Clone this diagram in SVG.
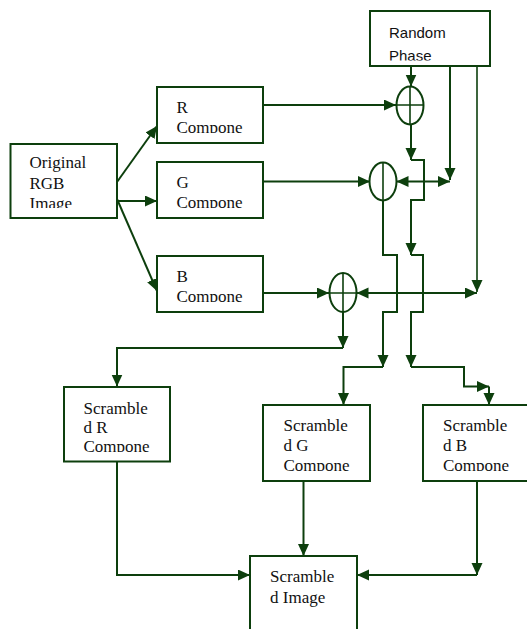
<svg xmlns="http://www.w3.org/2000/svg" width="527" height="629" viewBox="0 0 527 629">
<style>
.box{fill:#fff;stroke:#0d3f0d;stroke-width:2}
.ln{fill:none;stroke:#0d3f0d;stroke-width:2}
.sm{fill:none;stroke:#0d3f0d;stroke-width:1.6}
.t{font-family:"Liberation Serif",serif;font-size:17px;fill:#111}
.s{font-family:"Liberation Sans",Arial,sans-serif;font-size:15px;fill:#111}
</style>
<defs>
<marker id="ah" markerUnits="userSpaceOnUse" markerWidth="13" markerHeight="12" refX="12" refY="5.5" orient="auto-start-reverse" viewBox="0 0 13 12">
<path d="M0,0 L12,5.5 L0,11 z" fill="#0d3f0d"/>
</marker>
<clipPath id="cRP"><rect x="370" y="11" width="120" height="49.5"/></clipPath>
<clipPath id="cR"><rect x="157" y="87" width="106" height="46"/></clipPath>
<clipPath id="cO"><rect x="10" y="144" width="107" height="64"/></clipPath>
<clipPath id="cG"><rect x="157" y="162" width="106" height="46"/></clipPath>
<clipPath id="cB"><rect x="157" y="256" width="106" height="46"/></clipPath>
<clipPath id="cSR"><rect x="64" y="387" width="106" height="65"/></clipPath>
<clipPath id="cSG"><rect x="263" y="405" width="107" height="66"/></clipPath>
<clipPath id="cSB"><rect x="423" y="405" width="104" height="66"/></clipPath>
</defs>
<rect width="527" height="629" fill="#fff"/>
<g id="connectors">
<path class="ln" d="M117,182 L157,126" marker-end="url(#ah)"/>
<path class="ln" d="M117,201 L157,201" marker-end="url(#ah)"/>
<path class="ln" d="M117,199 L157,291" marker-end="url(#ah)"/>
<path class="ln" d="M263,105 L396,105" marker-end="url(#ah)"/>
<path class="ln" d="M263,181.5 L370,181.5" marker-end="url(#ah)"/>
<path class="ln" d="M263,293 L329,293" marker-end="url(#ah)"/>
<path class="ln" d="M411,66 L411,86.5" marker-end="url(#ah)"/>
<path class="ln" d="M411,124 L411,160" marker-end="url(#ah)"/>
<path class="ln" d="M411,160 L424,160 L424,200 L411,200 L411,255" marker-end="url(#ah)"/>
<path class="ln" d="M411,255 L423,255 L423,312 L411,312 L411,367" marker-end="url(#ah)"/>
<path class="ln" d="M411,367 L464,367 L464,386.5 L489,386.5" marker-end="url(#ah)"/>
<path class="ln" d="M489,386.5 L489,405" marker-end="url(#ah)"/>
<path class="ln" d="M383,200.5 L383,255 L397,255 L397,312 L383,312 L383,367" marker-end="url(#ah)"/>
<path class="ln" d="M383,367 L343.5,367 L343.5,405" marker-end="url(#ah)"/>
<path class="ln" d="M343,312 L343,348" marker-end="url(#ah)"/>
<path class="ln" d="M343,348 L117,348 L117,386.5" marker-end="url(#ah)"/>
<path class="ln" d="M450,66 L450,180" marker-end="url(#ah)"/>
<path class="ln" d="M396.5,181.5 L450,181.5" marker-start="url(#ah)" marker-end="url(#ah)"/>
<path class="sm" d="M477,66 L477,292" marker-end="url(#ah)"/>
<path class="ln" d="M356.5,293 L477,293" marker-start="url(#ah)" marker-end="url(#ah)"/>
<path class="ln" d="M117,461.5 L117,575 L250,575" marker-end="url(#ah)"/>
<path class="ln" d="M303.5,481 L303.5,556" marker-end="url(#ah)"/>
<path class="ln" d="M477,481 L477,575" marker-end="url(#ah)"/>
<path class="ln" d="M477,575 L357,575" marker-end="url(#ah)"/>
</g>
<g id="random-phase">
<rect class="box" x="370" y="11" width="120" height="55"/>
<g clip-path="url(#cRP)"><text class="s" x="389" y="37.5">Random</text><text class="s" x="389" y="61">Phase</text></g>
</g>
<g id="r-component">
<rect class="box" x="157" y="87" width="106" height="56"/>
<g clip-path="url(#cR)"><text class="t" x="176.5" y="112.5">R</text><text class="t" x="176.5" y="132.5">Compone</text></g>
</g>
<g id="original">
<rect class="box" x="10.5" y="144" width="106.5" height="74"/>
<g clip-path="url(#cO)"><text class="t" x="29.5" y="168">Original</text><text class="t" x="29.5" y="188.5">RGB</text><text class="t" x="29.5" y="209">Image</text></g>
</g>
<g id="g-component">
<rect class="box" x="157" y="162" width="106" height="56"/>
<g clip-path="url(#cG)"><text class="t" x="176.5" y="188">G</text><text class="t" x="176.5" y="208">Compone</text></g>
</g>
<g id="b-component">
<rect class="box" x="157" y="256" width="106" height="56"/>
<g clip-path="url(#cB)"><text class="t" x="176.5" y="281.5">B</text><text class="t" x="176.5" y="301.5">Compone</text></g>
</g>
<g id="sum-r">
<ellipse class="ln" cx="410" cy="105.5" rx="13.5" ry="19"/>
<path class="sm" d="M396.5,105 L423.5,105 M410,86.5 L410,124.5"/>
</g>
<g id="sum-g">
<ellipse class="ln" cx="383" cy="181.5" rx="13.5" ry="19"/>
<path class="sm" d="M383,162.5 L383,200.5"/>
</g>
<g id="sum-b">
<ellipse class="ln" cx="343" cy="292.5" rx="13.5" ry="19.5"/>
<path class="sm" d="M329.5,293 L356.5,293 M343,273 L343,312"/>
</g>
<g id="scrambled-r">
<rect class="box" x="64" y="387" width="106" height="74.5"/>
<g clip-path="url(#cSR)"><text class="t" x="83.5" y="413.5">Scramble</text><text class="t" x="83.5" y="432.5">d R</text><text class="t" x="83.5" y="452">Compone</text></g>
</g>
<g id="scrambled-g">
<rect class="box" x="263" y="405" width="107" height="76"/>
<g clip-path="url(#cSG)"><text class="t" x="283.5" y="431">Scramble</text><text class="t" x="283.5" y="451">d G</text><text class="t" x="283.5" y="471">Compone</text></g>
</g>
<g id="scrambled-b">
<rect class="box" x="423" y="405" width="110" height="76"/>
<g clip-path="url(#cSB)"><text class="t" x="443" y="431">Scramble</text><text class="t" x="443" y="451">d B</text><text class="t" x="443" y="471">Compone</text></g>
</g>
<g id="scrambled-image">
<rect class="box" x="250" y="556" width="107" height="80"/>
<text class="t" x="270" y="581.5">Scramble</text><text class="t" x="270" y="602.5">d Image</text>
</g>
</svg>
